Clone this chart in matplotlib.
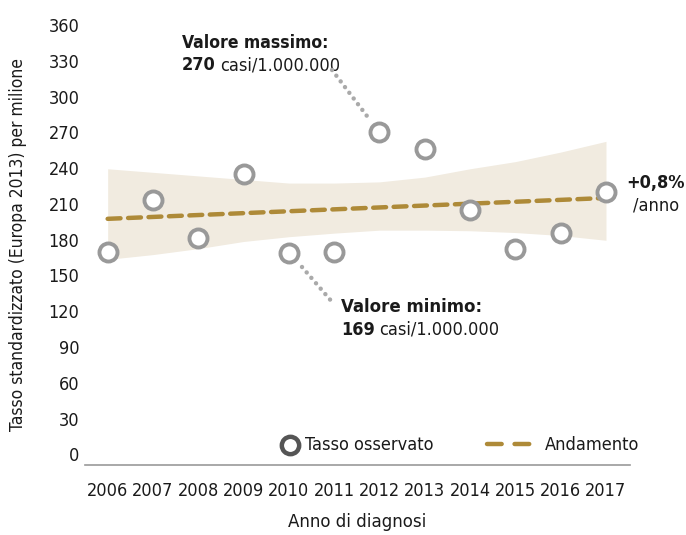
import matplotlib
matplotlib.use("Agg")
import matplotlib.pyplot as plt
from matplotlib.lines import Line2D

plt.rcParams['font.family'] = ['DejaVu Sans']
plt.rcParams['font.stretch'] = 'condensed'

years = [2006, 2007, 2008, 2009, 2010, 2011, 2012, 2013, 2014, 2015, 2016, 2017]
rate_observed = [170, 213, 181, 235, 169, 170, 270, 256, 205, 172, 186, 220]
trend_start_end = [197.5, 215]
band_upper = [239.5, 236.5, 233.5, 230.5, 227.5, 227.5, 228.5, 232.5, 239.5, 245.5, 253.5, 262.5]
band_lower = [163.5, 167.5, 172.5, 178.5, 182.5, 185.5, 188, 188, 187.5, 186, 183.5, 179.5]
y_ticks = [0, 30, 60, 90, 120, 150, 180, 210, 240, 270, 300, 330, 360]

TEXT = '#1a1a1a'
GOLD = '#AE8A38'
GRAY = '#999999'
BAND = '#F1EBE0'
DASH = (0, (2.9, 1.7))

fig = plt.figure(figsize=(6.86, 5.35), dpi=100)
W, H = 686, 535
ax = fig.add_axes([85 / W, 1 - 465 / H, (630 - 85) / W, (465 - 12) / H])

ax.fill_between(years, band_lower, band_upper, color=BAND, lw=0, zorder=1)
ax.plot([years[0], years[-1]], trend_start_end, color=GOLD, lw=3.2, ls=DASH,
        dash_capstyle='round', zorder=2)
ax.plot(years, rate_observed, ls='none', marker='o', ms=13, mfc='white', mec=GRAY,
        mew=2.8, zorder=3)

FS = 13
ax.set_xlim(2005.5, 2017.53)
ax.set_ylim(-9, 371)
ax.set_yticks(y_ticks)
ax.set_xticks(years)
ax.set_xticklabels([str(y) for y in years])
for s in ['top', 'right', 'left']:
    ax.spines[s].set_visible(False)
ax.spines['bottom'].set_color('#999999')
ax.spines['bottom'].set_linewidth(1.2)
ax.tick_params(axis='both', length=0, labelsize=FS, colors=TEXT)
ax.tick_params(axis='y', pad=4)
ax.tick_params(axis='x', pad=12)

fig.text(18 / W, 1 - 245 / H, 'Tasso standardizzato (Europa 2013) per milione', rotation=90,
         ha='center', va='center', fontsize=12.5, color=TEXT)
fig.text(357 / W, 1 - 522 / H, 'Anno di diagnosi', ha='center', va='center', fontsize=13.3,
         color=TEXT)

# annotations
def two_part(x, y, bold, normal):
    t = fig.text(x / W, 1 - y / H, bold, ha='left', va='baseline', fontsize=FS,
                 fontweight='bold', color=TEXT)
    ax.annotate(normal, xy=(1, 0), xycoords=t, xytext=(3, 0), textcoords='offset points',
                ha='left', va='bottom', fontsize=FS, color=TEXT, annotation_clip=False)

fig.text(182 / W, 1 - 48 / H, 'Valore massimo:', ha='left', va='baseline', fontsize=12.6,
         fontweight='bold', color=TEXT)
two_part(182, 70, '270', 'casi/1.000.000')
fig.text(341 / W, 1 - 312 / H, 'Valore minimo:', ha='left', va='baseline', fontsize=13.3,
         fontweight='bold', color=TEXT)
two_part(341, 335, '169', 'casi/1.000.000')
fig.text(656 / W, 1 - 183 / H, '+0,8%', ha='center', va='center', fontsize=FS,
         fontweight='bold', color=TEXT)
fig.text(656 / W, 1 - 206 / H, '/anno', ha='center', va='center', fontsize=FS, color=TEXT)

leader_style = dict(color='#aaaaaa', lw=3.2, ls=(0, (0.01, 1.6)), dash_capstyle='round',
                    transform=fig.transFigure)
fig.add_artist(Line2D([332 / W, 370 / W], [1 - 70 / H, 1 - 120 / H], **leader_style))
fig.add_artist(Line2D([302 / W, 333 / W], [1 - 267 / H, 1 - 303 / H], **leader_style))

# legend (drawn manually for exact placement)
fig.add_artist(Line2D([290 / W], [1 - 445 / H], ls='none', marker='o', ms=12.5, mfc='white',
                      mec='#555555', mew=3.2, transform=fig.transFigure))
fig.text(305 / W, 1 - 445 / H, 'Tasso osservato', ha='left', va='center', fontsize=FS,
         color=TEXT)
fig.add_artist(Line2D([487 / W, 533 / W], [1 - 444 / H, 1 - 444 / H], color=GOLD, lw=3.2,
                      ls=(0, (3.3, 2.9)), dash_capstyle='round', transform=fig.transFigure))
fig.text(545 / W, 1 - 445 / H, 'Andamento', ha='left', va='center', fontsize=FS, color=TEXT)

fig.savefig('out.png', dpi=100)
